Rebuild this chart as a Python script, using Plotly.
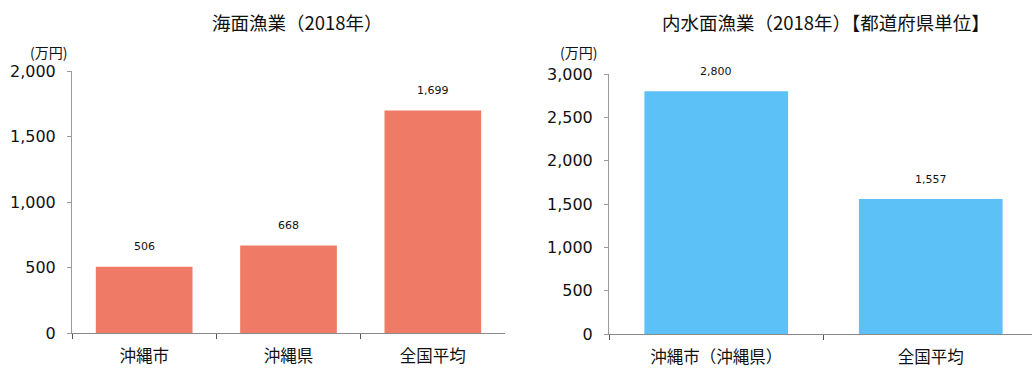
import plotly.graph_objects as go

# Sea fishery (2018): income per management unit, in 10,000 yen
sea_categories = ["沖縄市", "沖縄県", "全国平均"]
sea_values = [506, 668, 1699]

# Inland-water fishery (2018), prefecture level
inland_categories = ["沖縄市（沖縄県）", "全国平均"]
inland_values = [2800, 1557]

sea_title = "海面漁業（2018年）"
inland_title = "内水面漁業（2018年）【都道府県単位】"
unit_label = "(万円)"

SEA_COLOR = "#EF7B66"
INLAND_COLOR = "#5CC1F7"
AXIS_COLOR = "#9a9a9a"
TEXT_COLOR = "#111111"
CJK = "Noto Sans CJK JP"
NUM = "DejaVu Sans"

W, H = 1032, 370

fig = go.Figure()

fig.add_trace(go.Bar(x=sea_categories, y=sea_values, marker_color=SEA_COLOR,
                     marker_line_width=0, xaxis="x", yaxis="y", hoverinfo="skip"))
fig.add_trace(go.Bar(x=inland_categories, y=inland_values, marker_color=INLAND_COLOR,
                     marker_line_width=0, xaxis="x2", yaxis="y2", hoverinfo="skip"))


def xaxis_style(domain, rng, anchor):
    return dict(
        domain=domain, anchor=anchor, type="category", range=rng,
        automargin=False,
        showline=True, linecolor="#8a8a8a", linewidth=1, layer="below traces",
        ticks="outside", tickson="boundaries", ticklen=5, tickcolor="#555",
        showgrid=False, zeroline=False,
        tickfont=dict(family=CJK, size=16.5, color=TEXT_COLOR),
        ticklabelstandoff=8, fixedrange=True,
    )


def yaxis_style(domain, rng, dtick, anchor):
    return dict(
        domain=domain, anchor=anchor, range=rng, dtick=dtick,
        automargin=False,
        showline=True, linecolor=AXIS_COLOR, linewidth=1,
        ticks="outside", ticklen=4, tickcolor=AXIS_COLOR,
        showgrid=False, zeroline=False, tickformat=",d",
        tickfont=dict(family=NUM, size=16, color=TEXT_COLOR),
        ticklabelstandoff=8, fixedrange=True,
    )


fig.update_layout(
    width=W, height=H,
    margin=dict(l=0, r=0, t=0, b=0, pad=0, autoexpand=False),
    paper_bgcolor="white", plot_bgcolor="white",
    showlegend=False, bargap=0.33,
    xaxis=xaxis_style([72 / W, 505 / W], [-0.5, 2.5], "y"),
    yaxis=yaxis_style([(H - 333) / H, (H - 71) / H], [0, 2000], 500, "x"),
    xaxis2=xaxis_style([609 / W, 1.0], [-0.5, 1.472], "y2"),
    yaxis2=yaxis_style([(H - 334) / H, (H - 74) / H], [0, 3000], 500, "x2"),
)

annotations = []
# value labels above each bar
for cat, val in zip(sea_categories, sea_values):
    annotations.append(dict(x=cat, y=val, xref="x", yref="y", text=f"{val:,}",
                            showarrow=False, yanchor="middle", yshift=20,
                            font=dict(family=NUM, size=11, color=TEXT_COLOR)))
for cat, val in zip(inland_categories, inland_values):
    annotations.append(dict(x=cat, y=val, xref="x2", yref="y2", text=f"{val:,}",
                            showarrow=False, yanchor="middle", yshift=20,
                            font=dict(family=NUM, size=11, color=TEXT_COLOR)))

# panel titles
annotations.append(dict(x=297 / W, y=(H - 22) / H, xref="paper", yref="paper",
                        text=sea_title, showarrow=False, xanchor="center", yanchor="middle",
                        font=dict(family=CJK, size=18.5, color=TEXT_COLOR)))
annotations.append(dict(x=826 / W, y=(H - 22) / H, xref="paper", yref="paper",
                        text=inland_title, showarrow=False, xanchor="center", yanchor="middle",
                        font=dict(family=CJK, size=18.5, color=TEXT_COLOR)))

# unit labels above the value axes
annotations.append(dict(x=48 / W, y=(H - 52) / H, xref="paper", yref="paper",
                        text=unit_label, showarrow=False, xanchor="center", yanchor="middle",
                        font=dict(family=CJK, size=14, color=TEXT_COLOR)))
annotations.append(dict(x=578 / W, y=(H - 52) / H, xref="paper", yref="paper",
                        text=unit_label, showarrow=False, xanchor="center", yanchor="middle",
                        font=dict(family=CJK, size=14, color=TEXT_COLOR)))

fig.update_layout(annotations=annotations)

fig.write_html("out.html", config={"displayModeBar": False})
